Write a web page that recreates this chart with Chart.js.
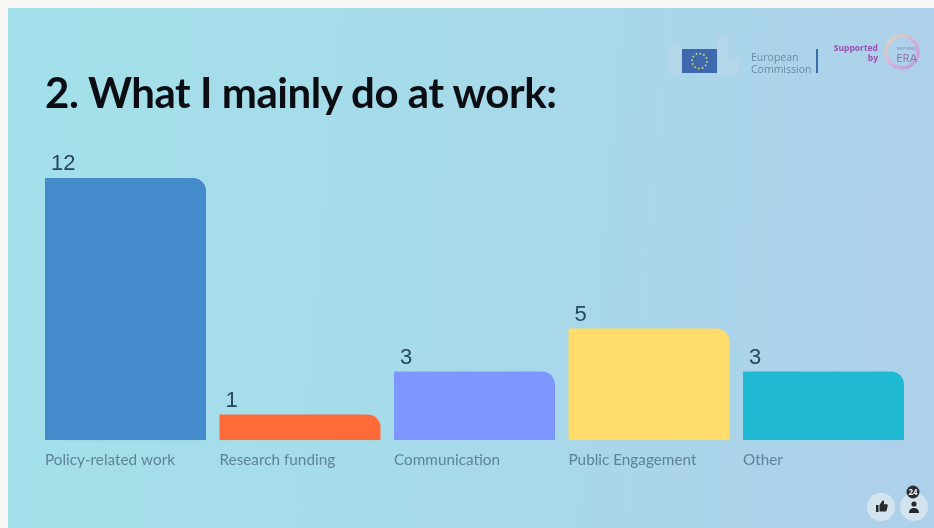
<!DOCTYPE html>
<html>
<head>
<meta charset="utf-8">
<title>What I mainly do at work</title>
<script src="https://cdn.jsdelivr.net/npm/chart.js@4"></script>
<style>
  html, body { margin: 0; padding: 0; width: 934px; height: 528px; overflow: hidden; background: #f8f6f4; }
  #slide { position: absolute; left: 8px; top: 8px; width: 926px; height: 520px;
           background: linear-gradient(95deg, #a3e0ea 0%, #a6dbe9 45%, #aed0ea 100%); }
  #chart { position: absolute; left: 0; top: 0; }
  h1 { position: absolute; left: 45px; top: 64px; margin: 0; font: 700 42px/56px Lato, sans-serif;
       letter-spacing: -0.46px; color: #0b0d12; white-space: nowrap; }
  #logos, #icons { position: absolute; left: 0; top: 0; }
  #logos { filter: blur(0.7px); }
</style>
</head>
<body>
<div id="slide"></div>
<canvas id="chart" width="934" height="528"></canvas>
<h1>2. What I mainly do at work:</h1>

<svg id="logos" width="934" height="528" xmlns="http://www.w3.org/2000/svg">
  <defs>
    <linearGradient id="ring" x1="0" y1="0" x2="1" y2="1">
      <stop offset="0" stop-color="#f3d9a0"/>
      <stop offset="0.5" stop-color="#e3a8d6"/>
      <stop offset="1" stop-color="#b98ad0"/>
    </linearGradient>
  </defs>
  <g fill="#c3d8e6" opacity="0.4">
    <rect x="667" y="46" width="14" height="29"/>
    <rect x="718" y="36" width="9" height="39"/>
    <rect x="727" y="58" width="12" height="17"/>
  </g>
  <rect x="682" y="49" width="35" height="24" fill="#3e69ad"/>
  <circle cx="699.5" cy="61" r="7.5" fill="none" stroke="#e6d76a" stroke-width="1.6" stroke-dasharray="1.6 2.3"/>
  <text x="751" y="61" font-family="Open Sans" font-size="10.5" fill="#6b8aa8">European</text>
  <text x="751" y="73" font-family="Open Sans" font-size="10.5" fill="#6b8aa8">Commission</text>
  <rect x="816" y="49" width="2" height="24" fill="#3b6ca8"/>
  <text x="878" y="51" text-anchor="end" font-family="Open Sans" font-weight="700" font-size="8.5" fill="#9a4fb0">Supported</text>
  <text x="878" y="61" text-anchor="end" font-family="Open Sans" font-weight="700" font-size="8.5" fill="#9a4fb0">by</text>
  <circle cx="902" cy="52" r="16" fill="none" stroke="url(#ring)" stroke-width="3.5" opacity="0.75"/>
  <text x="916" y="50" text-anchor="end" font-family="Open Sans" font-size="4" fill="#9a78b0">INSPIRING</text>
  <text x="917" y="62" text-anchor="end" font-family="Open Sans" font-size="11.5" fill="#8f6fa6">ERA</text>
</svg>

<svg id="icons" width="934" height="528" xmlns="http://www.w3.org/2000/svg">
  <circle cx="881" cy="507" r="14" fill="#d3e4ef"/>
  <circle cx="914" cy="507" r="14" fill="#d3e4ef"/>
  <path d="M876 505h2.5v7H876zM879.5 505l3-4.5c1.2 0 1.8.8 1.6 1.9l-.4 1.9h2.8c.9 0 1.4.8 1.2 1.6l-1.1 4.6c-.2.6-.7 1-1.3 1h-5.8z" fill="#26282c"/>
  <circle cx="914" cy="504" r="2.6" fill="#26282c"/>
  <path d="M909 513c0-3.4 2.2-5 5-5s5 1.6 5 5z" fill="#26282c"/>
  <circle cx="913" cy="492" r="6.5" fill="#2b2d31"/>
  <text x="913" y="495" text-anchor="middle" font-family="Open Sans" font-weight="700" font-size="8" fill="#f4f4f4">24</text>
</svg>

<script>
  // Survey answers shown on the slide
  const categories = ['Policy-related work', 'Research funding', 'Communication', 'Public Engagement', 'Other'];
  const answers = [12, 1, 3, 5, 3];
  const barColors = ['#438bcb', '#ff6b38', '#7e96ff', '#ffdc6b', '#1fb9d3'];

  // Bars keep a small visible stub below zero, so the axis starts a little under it
  const axisMin = -0.19;
  const axisMax = 12;

  // Writes each answer count just above the left end of its bar
  const valueLabels = {
    id: 'valueLabels',
    afterDatasetsDraw(chart) {
      const { ctx } = chart;
      const bars = chart.getDatasetMeta(0).data;
      ctx.save();
      ctx.font = '22px "Liberation Sans", sans-serif';
      ctx.fillStyle = '#27475c';
      ctx.textAlign = 'left';
      ctx.textBaseline = 'alphabetic';
      bars.forEach((bar, i) => {
        ctx.fillText(String(answers[i]), bar.x - bar.width / 2 + 6, bar.y - 8);
      });
      ctx.restore();
    }
  };

  new Chart(document.getElementById('chart'), {
    type: 'bar',
    data: {
      labels: categories,
      datasets: [{
        data: answers,
        base: axisMin,
        backgroundColor: barColors,
        borderWidth: 0,
        borderRadius: { topLeft: 0, topRight: 13, bottomLeft: 0, bottomRight: 0 },
        borderSkipped: false,
        barPercentage: 0.9226,
        categoryPercentage: 1
      }]
    },
    options: {
      responsive: false,
      animation: false,
      layout: { padding: { left: 38.25, right: 23.25, top: 178, bottom: 55.5 } },
      plugins: { legend: { display: false }, title: { display: false }, tooltip: { enabled: false } },
      scales: {
        x: {
          grid: { display: false },
          border: { display: false },
          ticks: {
            autoSkip: false,
            maxRotation: 0,
            align: 'start',
            labelOffset: -80.5,
            padding: 3,
            color: '#5d8398',
            font: { family: 'Lato', size: 15.3 }
          }
        },
        y: { display: false, min: axisMin, max: axisMax }
      }
    },
    plugins: [valueLabels]
  });
</script>
</body>
</html>
